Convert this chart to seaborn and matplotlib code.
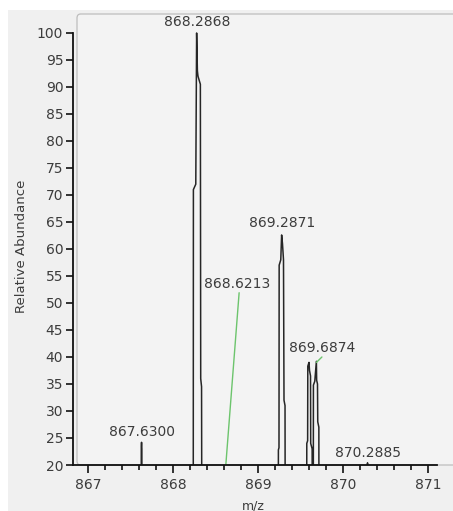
import numpy as np
import pandas as pd
import seaborn as sns
import matplotlib.pyplot as plt
from matplotlib.patches import FancyBboxPatch, Rectangle
from matplotlib.ticker import MultipleLocator

# DATA (profile samples)

peak_867_mz = [867.616, 867.624, 867.627, 867.630, 867.633, 867.638]
peak_867_int = [0, 0, 23.3, 24.2, 23.0, 0]

peak_868_mz = [868.228, 868.238, 868.240, 868.268, 868.278, 868.287, 868.294, 868.322, 868.326, 868.336, 868.340]
peak_868_int = [0, 0, 71.0, 72.0, 100.0, 93.0, 92.0, 90.5, 36.0, 34.5, 0]

peak_869_mz = [869.225, 869.238, 869.240, 869.247, 869.249, 869.268, 869.278, 869.288, 869.300, 869.306, 869.318, 869.321]
peak_869_int = [0, 0, 22.8, 23.2, 57.0, 58.0, 62.6, 61.0, 58.0, 32.0, 31.0, 0]

cluster_mz = [869.560, 869.572, 869.574, 869.584, 869.586, 869.600, 869.606, 869.618, 869.620, 869.637, 869.641,
              869.650, 869.652, 869.668, 869.687, 869.690, 869.700, 869.703, 869.716, 869.718, 869.730]
cluster_int = [0, 0, 24.0, 24.5, 38.3, 39.0, 37.5, 36.5, 24.0, 23.0, 0,
               0, 34.8, 35.5, 39.2, 35.7, 35.0, 28.0, 27.0, 0, 0]

peak_870_mz = [870.278, 870.284, 870.2885, 870.293, 870.299]
peak_870_int = [0, 19.0, 20.4, 19.0, 0]

label_text = ["867.6300", "868.2868", "868.6213", "869.2871", "869.6874", "870.2885"]
label_x = [867.630, 868.2868, 868.753, 869.2871, 869.753, 870.2885]
label_y = [26.1, 102.0, 53.5, 64.8, 41.7, 22.2]

# green connector lines (from peak position to label)
conn_868_x = [868.6213, 868.778]
conn_868_y = [20.0, 51.9]
conn_869_x = [869.6874, 869.752]
conn_869_y = [39.0, 40.0]

x_ticks = [867, 868, 869, 870, 871]
y_ticks = list(range(20, 101, 5))

# DATAFRAME

trace_mz = peak_867_mz + peak_868_mz + peak_869_mz + cluster_mz + peak_870_mz
trace_int = peak_867_int + peak_868_int + peak_869_int + cluster_int + peak_870_int
df = pd.DataFrame({"mz": trace_mz, "abundance": trace_int})

# FIGURE

sns.set_theme(style="ticks")
plt.rcParams["font.family"] = ["DejaVu Sans"]

text_col = "#3c3c3c"
bg = "#f0f0f0"

fig = plt.figure(figsize=(4.53, 5.11), dpi=100)
fig.patch.set_facecolor("white")

# gray panel and rounded plot frame
fig.patches.append(Rectangle((8 / 453, 0), 1, 1 - 10 / 511, transform=fig.transFigure,
                             facecolor=bg, edgecolor="none", zorder=0))
fig.patches.append(FancyBboxPatch((77 / 453, 46 / 511), 1, 451 / 511,
                                  boxstyle="round,pad=0,rounding_size=0.008",
                                  transform=fig.transFigure,
                                  facecolor="#f3f3f3", edgecolor="#bdbdbd",
                                  linewidth=0.9, zorder=0.5))

ax = fig.add_axes([73 / 453, 46 / 511, 364 / 453, 450 / 511])
ax.set_facecolor("none")
ax.set_zorder(2)

sns.lineplot(
    data=df,
    x="mz",
    y="abundance",
    sort=False,
    estimator=None,
    color="#262626",
    linewidth=1.1,
    ax=ax
)

ax.plot(conn_868_x, conn_868_y, color="#6cc46c", linewidth=1.0)
ax.plot(conn_869_x, conn_869_y, color="#6cc46c", linewidth=1.0)

for t, x, y in zip(label_text, label_x, label_y):
    ax.text(x, y, t, ha="center", va="center", fontsize=10, color=text_col)

ax.set_xlim(866.8235, 871.106)
ax.set_ylim(20, 103.33)

ax.set_xticks(x_ticks)
ax.set_yticks(y_ticks)
ax.xaxis.set_minor_locator(MultipleLocator(0.2))

ax.tick_params(axis="y", which="major", length=5, width=1.2, pad=2,
               labelsize=10, labelcolor=text_col, color="#111111")
ax.tick_params(axis="x", which="major", length=6, width=1.2, pad=3.5,
               labelsize=10, labelcolor=text_col, color="#111111")
ax.tick_params(axis="x", which="minor", length=3.5, width=1.2, color="#111111")

for side in ["top", "right"]:
    ax.spines[side].set_visible(False)
for side in ["left", "bottom"]:
    ax.spines[side].set_color("#111111")
    ax.spines[side].set_linewidth(1.3)
ax.spines["left"].set_bounds(20, 100)

ax.set_xlabel("")
ax.set_ylabel("")

fig.text(253 / 453, 1 - 506 / 511, "m/z", ha="center", va="center",
         fontsize=9, color=text_col)
fig.text(22 / 453, 1 - 246 / 511, "Relative Abundance", ha="center", va="center",
         rotation=90, fontsize=9.5, color=text_col)

plt.savefig("out.png", dpi=100, facecolor="white")
plt.close()
